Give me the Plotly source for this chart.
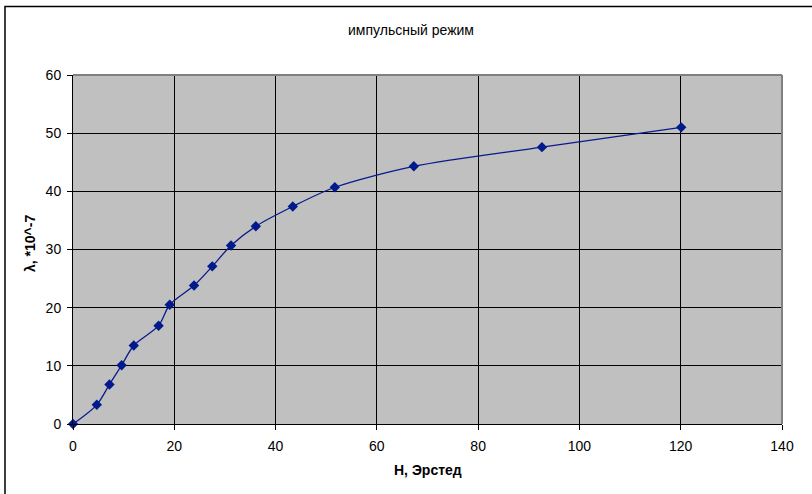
import plotly.graph_objects as go

H = [0, 4.7, 7.2, 9.6, 12.0, 16.9, 19.1, 23.9, 27.5, 31.2, 36.1, 43.4, 51.7, 67.3, 92.6, 120.1]
lam = [0, 3.3, 6.8, 10.1, 13.5, 16.9, 20.5, 23.8, 27.1, 30.7, 34.0, 37.4, 40.7, 44.3, 47.6, 51.0]

title_text = "импульсный режим"
x_title = "H, Эрстед"
y_title = "λ, *10^-7"
x_ticks = [0, 20, 40, 60, 80, 100, 120, 140]
y_ticks = [0, 10, 20, 30, 40, 50, 60]

W, Hh = 812, 494
L, R, T, B = 73, 30, 75, 70
pw = W - L - R
ph = Hh - T - B

def px(x):
    return (x - L) / pw

def py(y):
    return (Hh - B - y) / ph

font = "Liberation Sans, Arial, sans-serif"

fig = go.Figure()
fig.add_trace(go.Scatter(
    x=H, y=lam, mode="lines+markers",
    line=dict(color="#0A1A8C", width=1.3, shape="spline", smoothing=0.8),
    marker=dict(symbol="diamond", size=8, color="#001A8C"),
    showlegend=False, cliponaxis=False,
))

fig.update_layout(
    width=W, height=Hh,
    margin=dict(l=L, r=R, t=T, b=B),
    paper_bgcolor="white",
    plot_bgcolor="#C0C0C0",
    font=dict(family=font, size=14, color="black"),
    title=dict(text=title_text, x=px(411), xref="paper", xanchor="center",
               y=1 - 30 / Hh, yref="container", yanchor="middle",
               font=dict(size=14, family=font, color="black")),
    xaxis=dict(range=[0, 140], tickvals=x_ticks, showgrid=True, gridcolor="black",
               gridwidth=1, zeroline=False, showline=True, linecolor="black", linewidth=1,
               ticks="outside", ticklen=5, tickcolor="black", tickfont=dict(size=14),
               ticklabelstandoff=4),
    yaxis=dict(range=[0, 60], tickvals=y_ticks, showgrid=True, gridcolor="black",
               gridwidth=1, zeroline=False, showline=True, linecolor="black", linewidth=1,
               ticks="outside", ticklen=5, tickcolor="black", tickfont=dict(size=14),
               ticklabelstandoff=3),
    annotations=[
        dict(text="<b>" + x_title + "</b>", xref="paper", yref="paper",
             x=px(428), y=py(470), xanchor="center", yanchor="middle",
             showarrow=False, font=dict(size=14, family=font)),
        dict(text="<b>" + y_title + "</b>", xref="paper", yref="paper",
             x=px(30), y=py(244), xanchor="center", yanchor="middle", textangle=-90,
             showarrow=False, font=dict(size=14, family=font)),
    ],
    shapes=[
        dict(type="line", xref="paper", yref="paper", x0=0, x1=1, y0=1, y1=1,
             line=dict(color="#808080", width=2)),
        dict(type="line", xref="paper", yref="paper", x0=1, x1=1, y0=0, y1=1,
             line=dict(color="#808080", width=2)),
        dict(type="rect", xref="paper", yref="paper",
             x0=px(5), x1=px(820), y0=py(500), y1=py(6.5),
             line=dict(color="black", width=1.5)),
    ],
)

fig.write_html("out.html")
